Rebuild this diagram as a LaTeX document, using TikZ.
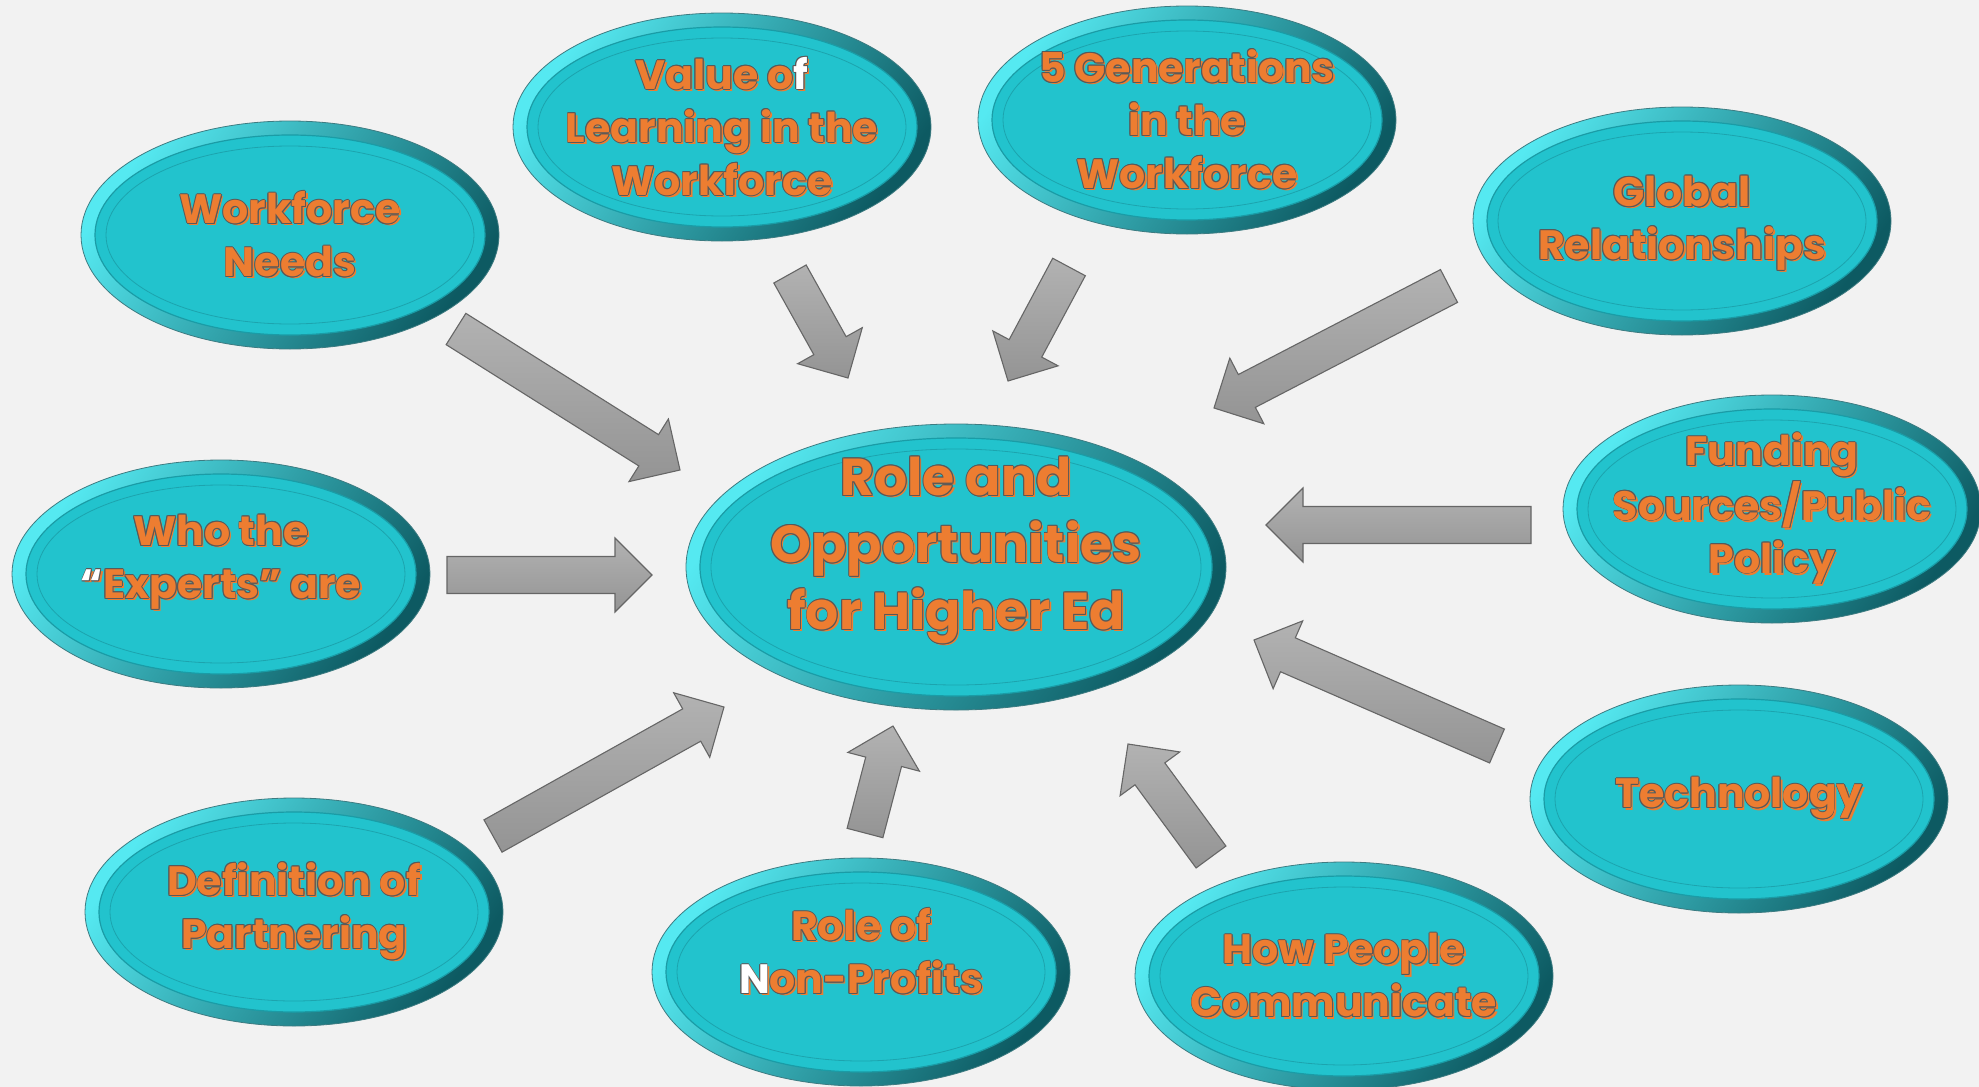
\documentclass[tikz,border=0pt]{standalone}
\usepackage{fontspec}
\setmainfont{Poppins}
\usetikzlibrary{shapes.geometric,calc}

\definecolor{bgcol}{HTML}{F2F2F2}
\definecolor{facecyan}{HTML}{22C3CD}
\definecolor{rimlight}{HTML}{55E9F1}
\definecolor{rimmid}{HTML}{24C0CA}
\definecolor{rimdark}{HTML}{0D5A62}
\definecolor{ringline}{HTML}{1A9CA6}
\definecolor{txtorange}{HTML}{ED7D31}
\definecolor{txtline}{HTML}{595959}
\definecolor{arrowlight}{HTML}{B2B2B2}
\definecolor{arrowdark}{HTML}{949494}
\definecolor{arrowedge}{HTML}{666666}

% outlined text with a small orange shadow
\newcommand\olcopy[3]{\rlap{\hspace*{#1}\raisebox{#2}{#3}}}
\newcommand\otc[2]{%
  {\color{txtorange}\olcopy{2.2pt}{-2.2pt}{#2}}%
  {\color{txtline}\olcopy{.9pt}{0pt}{#2}\olcopy{-.9pt}{0pt}{#2}\olcopy{0pt}{.9pt}{#2}\olcopy{0pt}{-.9pt}{#2}%
   \olcopy{.65pt}{.65pt}{#2}\olcopy{-.65pt}{.65pt}{#2}\olcopy{.65pt}{-.65pt}{#2}\olcopy{-.65pt}{-.65pt}{#2}}%
  \textcolor{#1}{#2}}
\newcommand\ot[1]{\otc{txtorange}{#1}}
\newcommand\otw[1]{\otc{white}{#1}}

% block arrow from #1 (tail) to #2 (tip)
\newcommand\blockarrow[2]{%
  \coordinate (hb) at ($(#2)!37pt!(#1)$);
  \draw[blockarr] ($(#1)!18.5pt!90:(#2)$) -- ($(hb)!18.5pt!90:(#2)$) -- ($(hb)!37pt!90:(#2)$)
    -- (#2) -- ($(hb)!37pt!-90:(#2)$) -- ($(hb)!18.5pt!-90:(#2)$) -- ($(#1)!18.5pt!-90:(#2)$) -- cycle;}

\begin{document}
\begin{tikzpicture}
[x=1pt, y=-1pt,
 bubble/.style 2 args={ellipse, minimum width=#1, minimum height=#2, inner sep=0pt,
   top color=rimlight, middle color=rimmid, bottom color=rimdark, shading angle=55,
   draw=rimdark!80, line width=0.8pt,
   path picture={
     \fill[facecyan] (path picture bounding box.center) ellipse [x radius=#1/2-14pt, y radius=#2/2-14pt];
     \draw[ringline, line width=1.2pt] (path picture bounding box.center) ellipse [x radius=#1/2-14pt, y radius=#2/2-14pt];
     \draw[ringline!80!facecyan, line width=0.8pt] (path picture bounding box.center) ellipse [x radius=#1/2-25pt, y radius=#2/2-25pt];
   }},
 smallbub/.style={bubble={418pt}{228pt}},
 bubtxt/.style={align=center, inner sep=0pt, font=\bfseries\fontsize{41}{53}\selectfont},
 hubtxt/.style={align=center, inner sep=0pt, font=\bfseries\fontsize{52}{67}\selectfont},
 blockarr/.style={draw=arrowedge, line width=1.1pt, top color=arrowlight, bottom color=arrowdark}]
\fill[bgcol] (0,0) rectangle (1979,1087);
\useasboundingbox (0,0) rectangle (1979,1087);

\node (hub) [bubble={540pt}{286pt}, label={[hubtxt, yshift=16pt]center:{\ot{Role and}\\\ot{Opportunities}\\\ot{for Higher Ed}}}] at (956,567) {};
\node (wn) [smallbub, label={[bubtxt]center:{\ot{Workforce}\\\ot{Needs}}}] at (290,235) {};
\node (vl) [smallbub, label={[bubtxt]center:{\ot{Value o}\otw{f}\\\ot{Learning in the}\\\ot{Workforce}}}] at (722,127) {};
\node (gen) [smallbub, label={[bubtxt]center:{\ot{5 Generations}\\\ot{in the}\\\ot{Workforce}}}] at (1187,120) {};
\node (gr) [smallbub, label={[bubtxt, yshift=-3pt]center:{\ot{Global}\\\ot{Relationships}}}] at (1682,221) {};
\node (fs) [smallbub, label={[bubtxt]center:{\ot{Funding}\\\ot{Sources/Public}\\\ot{Policy}}}] at (1772,509) {};
\node (tech) [smallbub, label={[bubtxt]center:{\ot{Technology}}}] at (1739,799) {};
\node (hp) [smallbub, label={[bubtxt]center:{\ot{How People}\\\ot{Communicate}}}] at (1344,976) {};
\node (np) [smallbub, label={[bubtxt, yshift=20pt]center:{\ot{Role of}\\\otw{N}\ot{on-Profits}}}] at (861,972) {};
\node (dp) [smallbub, label={[bubtxt]center:{\ot{Definition of}\\\ot{Partnering}}}] at (294,912) {};
\node (ex) [smallbub, label={[bubtxt, yshift=11pt]center:{\ot{Who the}\\\otw{“}\ot{Experts” are}}}] at (221,574) {};

\coordinate (wn-t) at (456,329);   \coordinate (wn-h) at (680,470);
\coordinate (vl-t) at (790,274);   \coordinate (vl-h) at (848,378);
\coordinate (gen-t) at (1069,267); \coordinate (gen-h) at (1008,381);
\coordinate (gr-t) at (1449,286);  \coordinate (gr-h) at (1214,408);
\coordinate (fs-t) at (1531,525);  \coordinate (fs-h) at (1266,525);
\coordinate (tech-t) at (1497,746); \coordinate (tech-h) at (1254,640);
\coordinate (hp-t) at (1211,857);  \coordinate (hp-h) at (1128,744);
\coordinate (np-t) at (865,833);   \coordinate (np-h) at (893,726);
\coordinate (dp-t) at (493,836);   \coordinate (dp-h) at (724,707);
\coordinate (ex-t) at (447,575);   \coordinate (ex-h) at (652,575);

\foreach \a in {wn,vl,gen,gr,fs,tech,hp,np,dp,ex}
  {\blockarrow{\a-t}{\a-h}}
\end{tikzpicture}
\end{document}
